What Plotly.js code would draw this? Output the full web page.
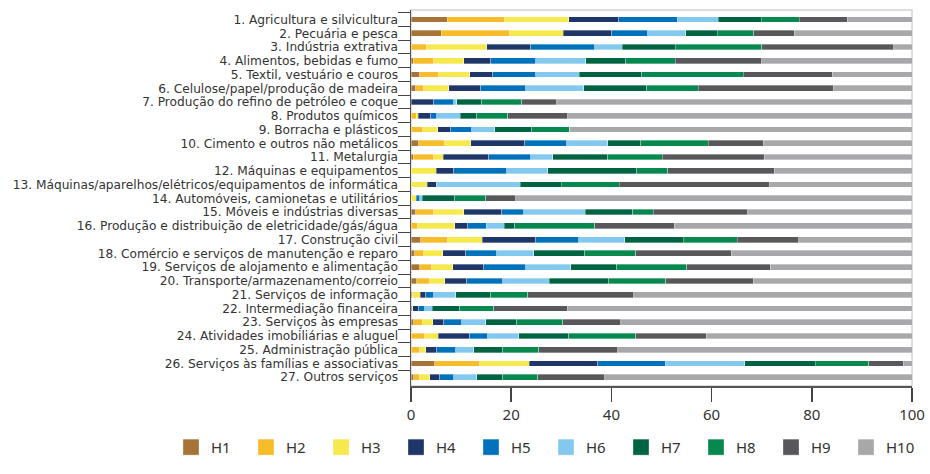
<!DOCTYPE html>
<html>
<head>
<meta charset="utf-8">
<script src="https://cdn.plot.ly/plotly-3.0.1.min.js"></script>
<style>html,body{margin:0;padding:0;background:#fff;}#chart{width:930px;height:474px;}</style>
</head>
<body>
<div id="chart"></div>
<script>
const categories = [
  "1. Agricultura e silvicultura",
  "2. Pecuária e pesca",
  "3. Indústria extrativa",
  "4. Alimentos, bebidas e fumo",
  "5. Textil, vestuário e couros",
  "6. Celulose/papel/produção de madeira",
  "7. Produção do refino de petróleo e coque",
  "8. Produtos químicos",
  "9. Borracha e plásticos",
  "10. Cimento e outros não metálicos",
  "11. Metalurgia",
  "12. Máquinas e equipamentos",
  "13. Máquinas/aparelhos/elétricos/equipamentos de informática",
  "14. Automóveis, camionetas e utilitários",
  "15. Móveis e indústrias diversas",
  "16. Produção e distribuição de eletricidade/gás/água",
  "17. Construção civil",
  "18. Comércio e serviços de manutenção e reparo",
  "19. Serviços de alojamento e alimentação",
  "20. Transporte/armazenamento/correio",
  "21. Serviços de informação",
  "22. Intermediação financeira",
  "23. Serviços às empresas",
  "24. Atividades imobiliárias e aluguel",
  "25. Administração pública",
  "26. Serviços às famílias e associativas",
  "27. Outros serviços"
];

const seriesNames = ["H1","H2","H3","H4","H5","H6","H7","H8","H9","H10"];

const H1 = [7.2,6.0,0,0.4,1.7,0.9,0,0,0,1.5,0.4,0,0,0,0.9,0,1.9,0.7,1.7,1.1,0.2,0.3,0.5,0,0,4.7,0.5];
const H2 = [11.5,13.7,3.1,4.1,3.8,1.6,0,1.0,2.3,5.2,4.1,0,0,0,3.6,1.3,5.4,1.8,2.4,2.6,0.1,0,1.7,2.7,1.7,9.0,1.2];
const H3 = [12.8,10.7,12.0,6.0,6.2,5.0,0,0.4,3.0,5.2,1.9,5.0,3.2,1.0,6.0,7.4,6.9,3.8,4.2,3.0,1.5,0,2.1,2.7,1.2,9.9,2.0];
const H4 = [10.0,9.7,8.8,5.4,4.6,6.4,4.5,2.5,2.6,10.8,9.1,3.5,1.9,0,7.6,2.6,10.7,4.6,6.2,4.4,1.1,1.2,2.2,6.3,2.2,13.7,2.0];
const H5 = [11.6,7.2,12.8,9.0,8.6,9.0,4.0,1.2,4.2,8.4,8.4,10.6,0,0.7,4.4,3.7,8.6,6.2,8.4,7.2,1.6,1.2,3.6,3.6,3.8,13.4,2.8];
const H6 = [8.2,7.5,5.5,10.0,8.7,11.6,0.6,4.7,4.6,8.2,4.4,8.2,16.7,0.5,12.3,3.6,9.2,7.4,9.0,9.3,4.4,1.5,4.8,6.2,3.6,15.9,4.6];
const H7 = [8.6,6.3,10.5,8.0,12.5,12.6,5.0,3.3,7.4,6.6,11.0,17.8,8.2,6.5,9.5,2.1,11.6,10.2,9.2,11.9,7.0,5.5,6.2,10.0,5.8,14.1,5.2];
const H8 = [7.6,7.3,17.3,9.8,20.2,10.2,8.0,6.2,7.6,13.4,10.8,6.1,11.6,6.2,4.1,16.0,10.8,10.2,13.9,11.3,7.4,6.8,9.2,13.4,7.2,10.7,7.0];
const H9 = [9.6,8.1,26.4,17.3,17.8,27.0,7.0,12.0,0,11.0,20.4,21.3,29.9,6.0,18.8,15.8,12.3,19.0,16.7,17.5,21.2,14.7,11.6,14.0,15.8,6.9,13.4];
const H10 = [12.9,23.5,3.6,30.0,15.9,15.7,70.9,68.7,68.3,29.7,29.5,27.5,28.5,79.1,32.8,47.5,22.6,36.1,28.3,31.7,55.5,68.8,58.1,41.1,58.7,1.7,61.3];

const xTicks = [0,20,40,60,80,100];

const seriesValues = [H1,H2,H3,H4,H5,H6,H7,H8,H9,H10];
const colors = ["#A57436","#F7BC2A","#F5E94E","#1F3669","#0072BC","#83C8EE","#006341","#07884E","#58585A","#A8A8AB"];

const traces = seriesNames.map((name, i) => ({
  type: "bar",
  orientation: "h",
  name: name,
  x: seriesValues[i],
  y: categories,
  marker: { color: colors[i], line: { color: "rgba(255,255,255,0.55)", width: 0.6 } },
  hoverinfo: "skip"
}));

const layout = {
  width: 930,
  height: 474,
  margin: { l: 411, r: 18, t: 10, b: 72, pad: 0 },
  paper_bgcolor: "#fff",
  plot_bgcolor: "#fff",
  barmode: "stack",
  bargap: 0.58,
  font: { family: "Noto Sans, sans-serif", color: "#333" },
  xaxis: {
    range: [0, 100],
    tickvals: xTicks,
    ticktext: xTicks.map(String),
    showgrid: false,
    zeroline: false,
    showline: true,
    linecolor: "#555",
    linewidth: 1.5,
    ticks: "outside",
    ticklen: 14,
    tickwidth: 1.5,
    tickcolor: "#444",
    tickfont: { size: 15, color: "#333" },
    fixedrange: true
  },
  yaxis: {
    type: "category",
    range: [26.64, -0.69],
    tickmode: "linear",
    tick0: 0,
    dtick: 1,
    showgrid: false,
    zeroline: false,
    showline: true,
    linecolor: "#555",
    linewidth: 1.5,
    ticks: "outside",
    tickson: "boundaries",
    ticklen: 12,
    tickwidth: 1,
    tickcolor: "#444",
    ticklabelstandoff: 9,
    tickfont: { family: "DejaVu Sans, sans-serif", size: 12.2, color: "#333" },
    fixedrange: true
  },
  shapes: [{
    type: "rect", xref: "paper", yref: "paper", x0: 0, x1: 1, y0: 0, y1: 1,
    line: { color: "#d4d4d4", width: 1.5 }, layer: "below"
  }],
  showlegend: true,
  legend: {
    orientation: "h",
    xref: "paper", yref: "paper",
    x: (171 - 411) / 501, xanchor: "left",
    y: (402 - 466) / 392, yanchor: "middle",
    entrywidth: 30,
    entrywidthmode: "pixels",
    traceorder: "normal",
    font: { size: 15, color: "#333" },
    itemclick: false, itemdoubleclick: false
  }
};

Plotly.newPlot("chart", traces, layout, { displayModeBar: false, staticPlot: true }).then(gd => {
  document.querySelectorAll(".legendpoints path").forEach(p => {
    p.setAttribute("d", "M8,8H-8V-8H8Z");
  });
});
</script>
</body>
</html>
